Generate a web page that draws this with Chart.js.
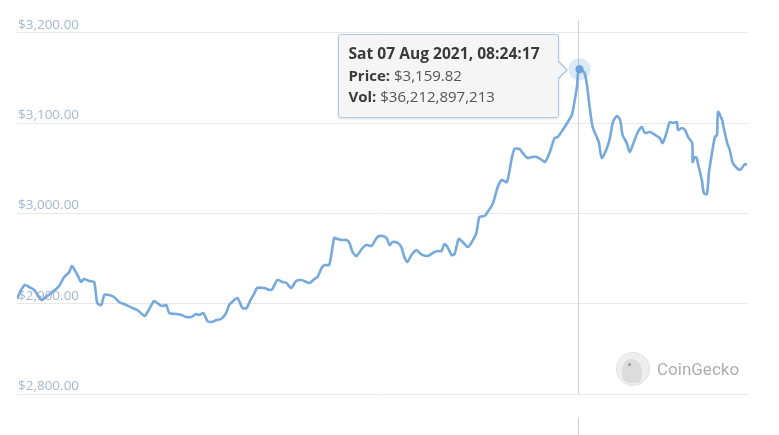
<!DOCTYPE html>
<html>
<head>
<meta charset="utf-8">
<script src="https://cdn.jsdelivr.net/npm/chart.js@4.4.1/dist/chart.umd.min.js"></script>
<style>
  html, body { margin: 0; padding: 0; background: #fff; }
  #wrap { position: relative; width: 779px; height: 435px; overflow: hidden; }
  #tip {
    position: absolute; display: none; box-sizing: border-box;
    width: 221px; height: 84px; padding: 8px 9px;
    background: rgba(245,245,245,0.96); border: 1px solid #a9c7e6; border-radius: 3px;
    box-shadow: 0 1px 3px rgba(0,0,0,0.12);
    font: 15px/21.5px 'Open Sans', sans-serif; color: #555; white-space: nowrap;
  }
  #tip b { color: #3a3a3a; font-weight: 700; }
  #tip .title { font-size: 15.6px; }
  #tip:before, #tip:after { content: ''; position: absolute; border-style: solid; }
  #tip:before { right: -10px; top: 26px; border-width: 9px 0 9px 9px; border-color: transparent transparent transparent #a9c7e6; }
  #tip:after { right: -8px; top: 27px; border-width: 8px 0 8px 8px; border-color: transparent transparent transparent #f5f5f5; }
  #logo { position: absolute; left: 616px; top: 352px; height: 34px; display: flex; align-items: center; }
  #logo .mark { position: relative; width: 32px; height: 32px; border-radius: 50%; background: #eeeeee; border: 1px solid #e2e2e2; overflow: hidden; }
  #logo .head { position: absolute; left: 5px; top: 6px; width: 20px; height: 24px; border-radius: 50% 60% 30% 40%; background: #dcdcdc; }
  #logo .eye { position: absolute; left: 11px; top: 10px; width: 3px; height: 3px; border-radius: 50%; background: #999; }
  #logo .txt { margin-left: 7px; font: 17px Roboto, sans-serif; color: #adadad; }
</style>
</head>
<body>
<div id="wrap">
  <canvas id="priceChart" width="779" height="435"></canvas>
  <div id="logo"><span class="mark"><span class="head"></span><span class="eye"></span></span><span class="txt">CoinGecko</span></div>
  <div id="tip"></div>
</div>
<script>
// minutes since Fri 06 Aug 2021 13:56:17 (UTC)
const minutes = [0,8,16,24,34,43,49,57,67,77,
  83,93,103,108,116,122,126,132,142,152,
  158,166,172,181,191,201,215,227,237,251,
  256,270,276,286,294,300,314,324,333,343,
  353,359,367,375,383,393,402,412,418,424,
  434,444,452,460,468,473,487,501,513,523,
  531,540,550,560,570,576,586,592,600,606,
  615,625,631,639,649,655,661,669,679,688,
  698,710,720,728,734,740,750,757,763,769,
  777,787,793,799,809,819,828,836,842,848,
  856,862,870,878,888,896,905,911,921,927,
  937,947,955,965,974,980,990,996,1006,1014,
  1024,1034,1040,1049,1059,1065,1075,1085,1093,1097,
  1103,1105,1108,1118,1124,1128,1134,1142,1146,1152,
  1162,1168,1174,1182,1188,1193,1201,1207,1213,1223,
  1231,1237,1247,1257,1266,1272,1280,1286,1292,1300,
  1302,1310,1316,1322,1330,1331,1335,1339,1341,1349,
  1353,1359,1363,1371,1375,1379,1381,1389,1391,1399,
  1404,1410,1418,1424,1428,1434,1438];

const prices = [2905.27,2915.24,2920.78,2918.56,2915.24,2907.48,2904.16,2907.48,2911.92,2916.35,
  2919.67,2929.64,2935.18,2941.83,2935.18,2928.54,2924.10,2927.43,2925.21,2924.10,
  2900.84,2898.62,2909.70,2909.70,2907.48,2901.94,2898.62,2895.30,2893.08,2886.43,
  2889.76,2903.05,2900.84,2897.51,2898.62,2889.76,2888.65,2887.54,2885.32,2885.32,
  2888.65,2887.54,2889.76,2880.89,2879.78,2882.00,2883.11,2889.76,2898.62,2901.94,
  2906.38,2895.30,2895.30,2904.16,2911.92,2917.46,2917.46,2915.24,2926.32,2924.10,
  2923.00,2917.46,2925.21,2926.32,2924.10,2923.00,2927.43,2929.64,2939.62,2942.94,
  2942.94,2972.86,2971.75,2970.64,2970.64,2967.32,2957.34,2952.91,2960.67,2965.10,
  2963.99,2973.96,2975.07,2972.86,2965.10,2968.42,2967.32,2962.88,2951.80,2946.26,
  2954.02,2959.56,2956.24,2954.02,2952.91,2956.24,2958.45,2958.45,2966.21,2962.88,
  2954.02,2955.13,2971.75,2968.42,2962.88,2968.42,2978.40,2996.12,2997.23,3001.66,
  3010.53,3029.36,3037.12,3034.90,3059.28,3071.47,3071.47,3067.04,3061.50,3062.60,
  3062.60,3059.28,3057.06,3067.04,3083.66,3084.76,3092.52,3101.38,3109.14,3120.22,
  3140.16,3154.57,3159.82,3155.68,3136.84,3118.00,3095.84,3084.76,3079.22,3061.50,
  3072.58,3083.66,3101.38,3108.03,3103.60,3086.98,3078.12,3068.14,3075.90,3090.30,
  3095.84,3089.20,3090.30,3086.98,3083.66,3078.12,3090.30,3101.38,3100.28,3101.38,
  3092.52,3094.74,3092.52,3084.76,3078.12,3057.06,3062.60,3061.50,3055.96,3037.12,
  3022.72,3021.61,3044.88,3073.68,3084.76,3086.98,3112.46,3103.60,3098.06,3078.12,
  3070.36,3055.96,3050.42,3048.20,3050.42,3054.85,3053.74];

const yTicks = [2800, 2900, 3000, 3100, 3200];
const startTime = Date.UTC(2021, 7, 6, 13, 56, 17);
const peakVolume = 36212897213;
const peakIndex = prices.indexOf(Math.max(...prices));

const dayNames = ['Sun','Mon','Tue','Wed','Thu','Fri','Sat'];
const monthNames = ['Jan','Feb','Mar','Apr','May','Jun','Jul','Aug','Sep','Oct','Nov','Dec'];
const pad = n => String(n).padStart(2, '0');
const money = v => '$' + v.toLocaleString('en-US', {minimumFractionDigits: 2, maximumFractionDigits: 2});

function fmtTime(ms) {
  const d = new Date(ms);
  return dayNames[d.getUTCDay()] + ' ' + pad(d.getUTCDate()) + ' ' + monthNames[d.getUTCMonth()] + ' ' +
    d.getUTCFullYear() + ', ' + pad(d.getUTCHours()) + ':' + pad(d.getUTCMinutes()) + ':' + pad(d.getUTCSeconds());
}

// vertical hover line + halo behind the line
const crosshair = {
  id: 'crosshair',
  beforeDatasetsDraw(chart) {
    const active = chart.getActiveElements();
    if (!active.length) return;
    const {ctx, chartArea} = chart;
    const pt = active[0].element;
    ctx.save();
    ctx.strokeStyle = '#d0d0d0';
    ctx.lineWidth = 1;
    const x = Math.round(pt.x) - 0.5;
    ctx.beginPath();
    ctx.moveTo(x, chartArea.top);
    ctx.lineTo(x, chartArea.bottom);
    ctx.moveTo(x, chartArea.bottom + 24);
    ctx.lineTo(x, chart.height);
    ctx.stroke();
    ctx.fillStyle = 'rgba(124,176,226,0.28)';
    ctx.beginPath();
    ctx.arc(pt.x, pt.y, 11, 0, Math.PI * 2);
    ctx.fill();
    ctx.restore();
  }
};

const ctx = document.getElementById('priceChart').getContext('2d');
const chart = new Chart(ctx, {
  type: 'line',
  data: {
    datasets: [{
      label: 'Price',
      data: minutes.map((m, i) => ({x: m, y: prices[i]})),
      borderColor: '#76a9dc',
      borderWidth: 2.6,
      tension: 0.25,
      pointRadius: 0,
      pointHoverRadius: 4,
      pointHoverBorderWidth: 0,
      pointHoverBackgroundColor: '#6aa3db'
    }]
  },
  options: {
    responsive: false,
    animation: false,
    events: [],
    layout: { padding: { left: 15, right: 31, top: 20, bottom: 41 } },
    scales: {
      x: { type: 'linear', min: 0, max: 1440, display: false },
      y: {
        min: 2800,
        max: 3214.4,
        afterBuildTicks: axis => { axis.ticks = yTicks.map(v => ({value: v})); },
        border: { display: false },
        grid: { color: '#e8e8e8', drawTicks: false },
        ticks: {
          mirror: true,
          padding: 1,
          labelOffset: -8,
          color: '#a2b8d1',
          font: { family: 'Open Sans', size: 13.5 },
          callback: v => money(v)
        }
      }
    },
    plugins: {
      legend: { display: false },
      tooltip: {
        enabled: false,
        external: ({tooltip}) => {
          const el = document.getElementById('tip');
          if (tooltip.opacity === 0 || !tooltip.dataPoints) { el.style.display = 'none'; return; }
          const i = tooltip.dataPoints[0].dataIndex;
          let html = '<b class="title">' + fmtTime(startTime + minutes[i] * 60000) + '</b><br>' +
            '<b>Price:</b> ' + money(prices[i]);
          if (i === peakIndex) html += '<br><b>Vol:</b> $' + peakVolume.toLocaleString('en-US');
          el.innerHTML = html;
          el.style.display = 'block';
          el.style.left = (tooltip.caretX - 20 - el.offsetWidth) + 'px';
          el.style.top = (tooltip.caretY - 35) + 'px';
        }
      }
    }
  },
  plugins: [crosshair]
});

const peakPoint = chart.getDatasetMeta(0).data[peakIndex];
chart.setActiveElements([{datasetIndex: 0, index: peakIndex}]);
chart.tooltip.setActiveElements([{datasetIndex: 0, index: peakIndex}], {x: peakPoint.x, y: peakPoint.y});
chart.update();
</script>
</body>
</html>
